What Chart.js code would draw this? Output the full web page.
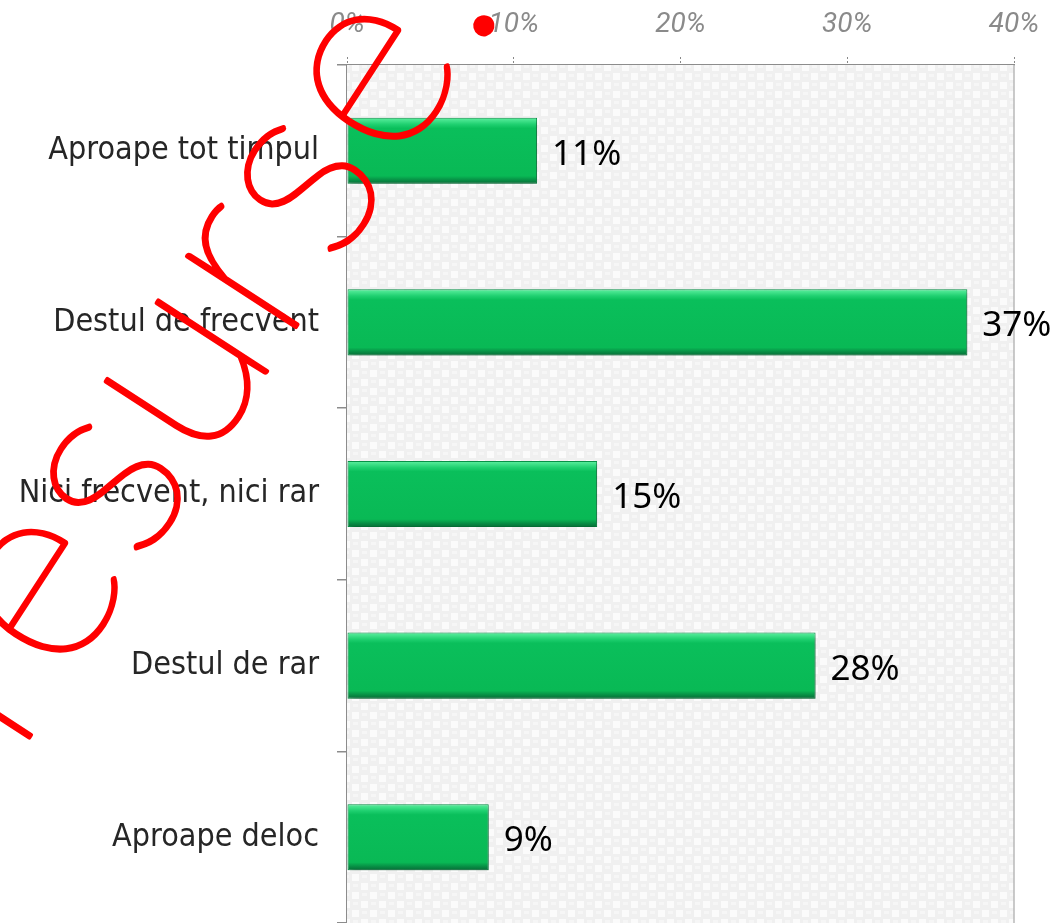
<!DOCTYPE html>
<html>
<head>
<meta charset="utf-8">
<script src="https://cdn.jsdelivr.net/npm/chart.js@4/dist/chart.umd.min.js"></script>
<style>
  html, body { margin: 0; padding: 0; background: #fff; overflow: hidden; }
  #wrap { width: 1056px; height: 923px; position: relative; }
</style>
</head>
<body>
<div id="wrap"><canvas id="Chart"></canvas></div>
<script>
// values (percent)
var categories = ["Aproape tot timpul", "Destul de frecvent", "Nici frecvent, nici rar", "Destul de rar", "Aproape deloc"];
var values = [11.4, 37.2, 15.0, 28.1, 8.5];
var axisMin = 0, axisMax = 40, axisStep = 10;
var watermark = "resurse..";

var green = "#0abf5b";

function makePattern(ctx) {
    var c = document.createElement("canvas");
    c.width = 18; c.height = 18;
    var p = c.getContext("2d");
    p.fillStyle = "#f0f0f0";
    p.fillRect(0, 0, 18, 18);
    p.fillStyle = "#fbfbfb";
    p.fillRect(1, 1, 7, 7);
    p.fillRect(10, 10, 7, 7);
    p.fillStyle = "#f6f6f6";
    p.fillRect(11, 2, 5, 3);
    p.fillRect(2, 11, 5, 3);
    return ctx.createPattern(c, "repeat");
}

function barFill(c) {
    var chart = c.chart;
    if (!chart.chartArea) return green;
    var y = chart.scales.y.getPixelForValue(c.dataIndex);
    var h = chart.scales.y.height / categories.length * 0.385;
    var g = chart.ctx.createLinearGradient(0, y - h / 2, 0, y + h / 2);
    g.addColorStop(0, "#5ef0a0");
    g.addColorStop(0.1, "#1fd070");
    g.addColorStop(0.16, green);
    g.addColorStop(0.88, "#09b955");
    g.addColorStop(0.95, "#078a43");
    g.addColorStop(1, "#066e36");
    return g;
}

var backdrop = {
    id: "backdrop",
    beforeDatasetsDraw: function (chart) {
        var a = chart.chartArea, ctx = chart.ctx;
        ctx.save();
        ctx.fillStyle = makePattern(ctx);
        ctx.fillRect(a.left, a.top, a.right - a.left, a.bottom - a.top);
        ctx.strokeStyle = "#b8b8b8";
        ctx.lineWidth = 1.5;
        ctx.beginPath();
        ctx.moveTo(a.right, a.top);
        ctx.lineTo(a.right, a.bottom);
        ctx.stroke();
        ctx.restore();
        ctx.save();
        ctx.shadowColor = "rgba(0,0,0,0.35)";
        ctx.shadowBlur = 5;
        ctx.shadowOffsetX = 2;
        ctx.shadowOffsetY = 3;
    },
    afterDatasetsDraw: function (chart) {
        chart.ctx.restore();
        var ctx = chart.ctx;
        var meta = chart.getDatasetMeta(0);
        ctx.save();
        ctx.font = "35px 'Noto Sans'";
        ctx.fillStyle = "#000";
        ctx.textBaseline = "middle";
        ctx.textAlign = "left";
        meta.data.forEach(function (bar, i) {
            ctx.fillText(Math.round(values[i]) + "%", bar.x + 15, bar.y + 4);
        });
        ctx.restore();
    },
    afterDraw: function (chart) {
        var ctx = chart.ctx;
        ctx.save();
        ctx.translate(16, 758);
        ctx.rotate(-57 * Math.PI / 180);
        ctx.font = "200 265px Lato";
        ctx.letterSpacing = "4px";
        ctx.fillStyle = "#ff0000";
        ctx.strokeStyle = "#ff0000";
        ctx.lineWidth = 4;
        ctx.lineJoin = "round";
        ctx.fillText(watermark, 0, 0);
        ctx.strokeText(watermark, 0, 0);
        ctx.restore();
    }
};

new Chart("Chart", {
    type: "bar",
    data: {
        labels: categories,
        datasets: [{
            data: values,
            backgroundColor: barFill,
            borderColor: "#079448",
            borderWidth: 1,
            borderSkipped: false,
            categoryPercentage: 1,
            barPercentage: 0.385
        }]
    },
    options: {
        indexAxis: "y",
        responsive: true,
        maintainAspectRatio: false,
        animation: false,
        layout: { padding: { top: 0, right: 42, bottom: 0, left: 0 } },
        plugins: { legend: { display: false }, tooltip: { enabled: false } },
        scales: {
            x: {
                position: "top",
                min: axisMin,
                max: axisMax,
                afterFit: function (s) { s.height = 65; },
                ticks: {
                    stepSize: axisStep,
                    padding: 15,
                    color: "#8a8a8a",
                    font: { family: "Roboto", size: 28, style: "italic" },
                    callback: function (v) { return v + "%"; }
                },
                grid: {
                    drawOnChartArea: false,
                    tickLength: 8,
                    tickBorderDash: [2, 2],
                    color: "#888"
                },
                border: { color: "#8c8c8c", width: 1.5, dash: [2, 1] }
            },
            y: {
                afterFit: function (s) {
                    s.width = 347;
                    s.paddingTop = 0;
                    s.paddingBottom = 0;
                },
                ticks: {
                    padding: 18,
                    color: "#262626",
                    font: { family: "'DejaVu Sans Condensed', 'DejaVu Sans'", size: 32 }
                },
                grid: {
                    drawOnChartArea: false,
                    tickLength: 10,
                    color: "#8c8c8c",
                    lineWidth: 1.5
                },
                border: { color: "#8c8c8c", width: 2 }
            }
        }
    },
    plugins: [backdrop]
});
</script>
</body>
</html>
